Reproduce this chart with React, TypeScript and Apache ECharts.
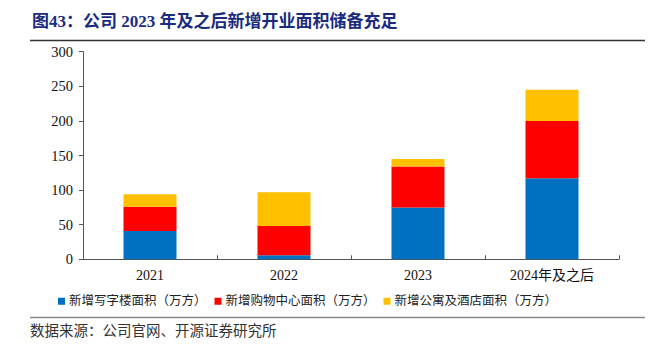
import React, { useEffect, useRef } from "react";
import * as echarts from "echarts";

const categories = ["2021", "2022", "2023", "2024年及之后"];
const officeArea = [41, 6, 75, 117];
const mallArea = [35, 42, 59, 83];
const aptHotelArea = [18, 49, 11, 45];
const seriesNames = [
  "新增写字楼面积（万方）",
  "新增购物中心面积（万方）",
  "新增公寓及酒店面积（万方）",
];
const titleText = "图43：公司 2023 年及之后新增开业面积储备充足";
const sourceText = "数据来源：公司官网、开源证券研究所";

const FONT = '"Liberation Serif", "Noto Sans CJK SC", serif';

export default function App() {
  const ref = useRef<HTMLDivElement>(null);
  useEffect(() => {
    if (!ref.current) return;
    const chart = echarts.init(ref.current, null, { renderer: "svg" });
    const colors = ["#0070C0", "#FF0000", "#FFC000"];
    const datas = [officeArea, mallArea, aptHotelArea];
    chart.setOption({
      animation: false,
      textStyle: { fontFamily: FONT },
      grid: { left: 83, right: 37, top: 51.7, bottom: 91.7, containLabel: false },
      legend: {
        left: 53,
        top: 290,
        itemWidth: 7,
        itemHeight: 7,
        itemGap: 8,
        icon: "rect",
        textStyle: { fontFamily: FONT, fontSize: 12.5, color: "#222", padding: [0, 0, 0, -1] },
        data: seriesNames,
      },
      xAxis: {
        type: "category",
        data: categories,
        axisLine: { lineStyle: { color: "#555", width: 1 } },
        axisTick: { show: true, length: 4, inside: true, lineStyle: { color: "#555" } },
        axisLabel: { fontFamily: FONT, fontSize: 14, color: "#111", margin: 9 },
      },
      yAxis: {
        type: "value",
        min: 0,
        max: 300,
        interval: 50,
        splitLine: { show: false },
        axisLine: { show: true, lineStyle: { color: "#555", width: 1 } },
        axisTick: { show: true, length: 4, lineStyle: { color: "#555" } },
        axisLabel: { fontFamily: FONT, fontSize: 14.5, color: "#111", margin: 10 },
      },
      series: seriesNames.map((name, i) => ({
        name,
        type: "bar",
        stack: "total",
        barWidth: 53,
        data: datas[i],
        itemStyle: { color: colors[i] },
      })),
      graphic: [
        {
          type: "text",
          left: 32,
          top: 13,
          style: {
            text: titleText,
            fontFamily: FONT,
            fontWeight: "bold",
            fontSize: 17,
            fill: "#1B2C80",
          },
        },
        {
          type: "line",
          shape: { x1: 30, y1: 40.5, x2: 645, y2: 40.5 },
          style: { stroke: "#333", lineWidth: 1.3 },
        },
        {
          type: "line",
          shape: { x1: 30, y1: 317.5, x2: 645, y2: 317.5 },
          style: { stroke: "#888", lineWidth: 1.5 },
        },
        {
          type: "text",
          left: 30,
          top: 324,
          style: {
            text: sourceText,
            fontFamily: FONT,
            fontSize: 14.5,
            fill: "#333",
          },
        },
      ],
    });
    return () => chart.dispose();
  }, []);
  return <div ref={ref} style={{ width: 656, height: 351, position: "absolute", left: 0, top: 0 }} />;
}
